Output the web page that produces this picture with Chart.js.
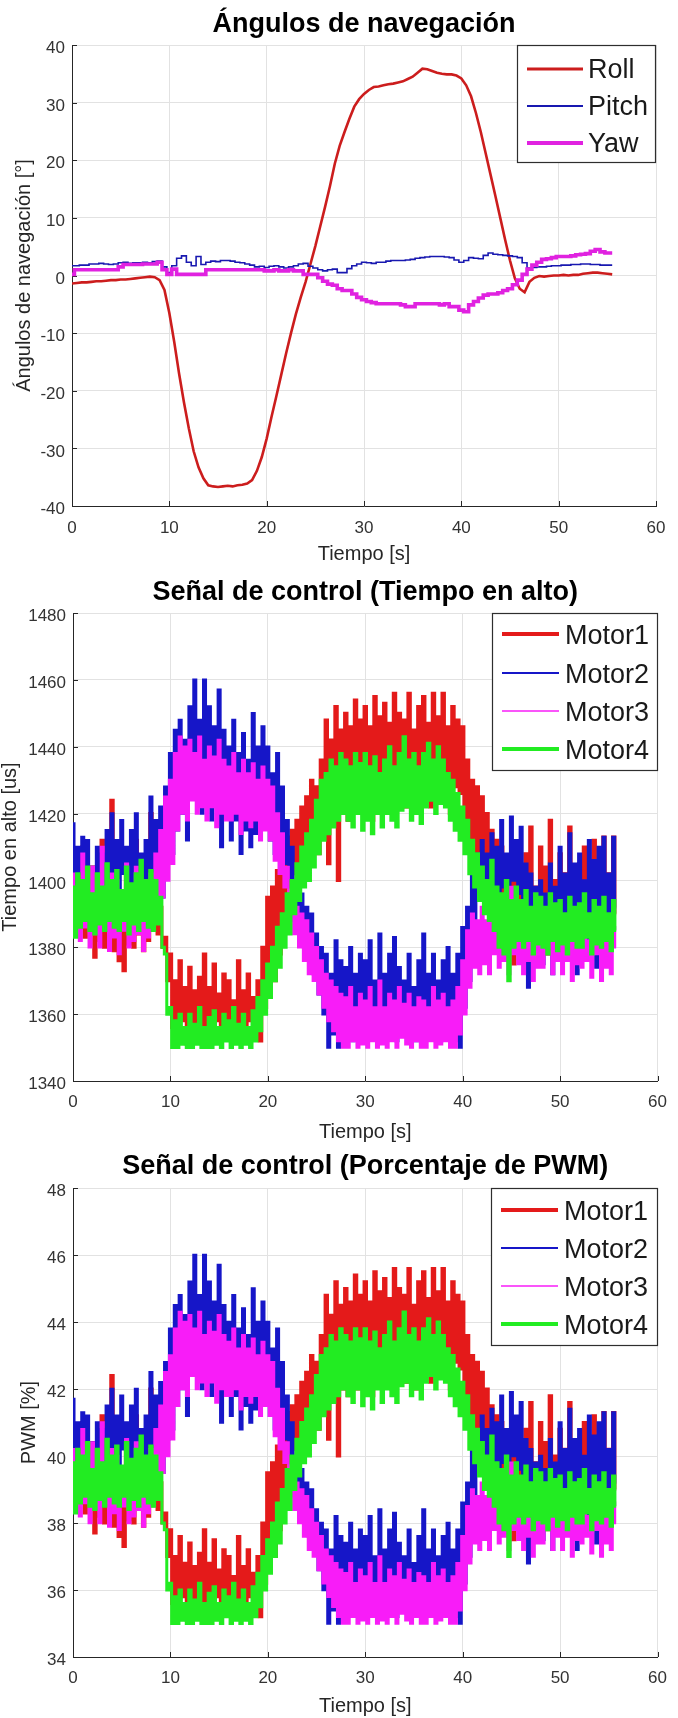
<!DOCTYPE html>
<html lang="es">
<head>
<meta charset="utf-8">
<title>Ángulos de navegación y señales de control</title>
<script src="https://cdn.jsdelivr.net/npm/chart.js@4.4.1/dist/chart.umd.min.js"></script>
<style>
    body { margin: 0; background: #ffffff; }
    .panel { position: absolute; left: 0; width: 678px; }
</style>
</head>
<body>
<div class="panel" style="top: 0px; height: 580px;"><canvas id="grafica-angulos"></canvas></div>
<div class="panel" style="top: 566px; height: 590px;"><canvas id="grafica-alto"></canvas></div>
<div class="panel" style="top: 1141px; height: 577px;"><canvas id="grafica-pwm"></canvas></div>
<script>
// ---- datos ----
const tiempoAngulos = [
    0, 0.5, 1, 1.5, 2, 2.5, 3, 3.5, 4, 4.5,
    5, 5.5, 6, 6.5, 7, 7.5, 8, 8.5, 9, 9.5,
    10, 10.5, 11, 11.5, 12, 12.5, 13, 13.5, 14, 14.5,
    15, 15.5, 16, 16.5, 17, 17.5, 18, 18.5, 19, 19.5,
    20, 20.5, 21, 21.5, 22, 22.5, 23, 23.5, 24, 24.5,
    25, 25.5, 26, 26.5, 27, 27.5, 28, 28.5, 29, 29.5,
    30, 30.5, 31, 31.5, 32, 32.5, 33, 33.5, 34, 34.5,
    35, 35.5, 36, 36.5, 37, 37.5, 38, 38.5, 39, 39.5,
    40, 40.5, 41, 41.5, 42, 42.5, 43, 43.5, 44, 44.5,
    45, 45.5, 46, 46.5, 47, 47.5, 48, 48.5, 49, 49.5,
    50, 50.5, 51, 51.5, 52, 52.5, 53, 53.5, 54, 54.5,
    55, 55.5
];
const roll = [
    -1.4, -1.3, -1.2, -1.2, -1.1, -1.0, -1.0, -0.9, -0.8, -0.8,
    -0.7, -0.7, -0.6, -0.5, -0.4, -0.3, -0.2, -0.3, -0.8, -2.5,
    -6.5, -11.5, -17, -22, -26.5, -30.5, -33.3, -35.2, -36.4, -36.6,
    -36.7, -36.6, -36.5, -36.6, -36.4, -36.3, -36.1, -35.5, -33.9, -31.5,
    -28.3, -24.5, -20.9, -17.2, -13.5, -10, -6.7, -3.8, -1.1, 2,
    5.1, 8.5, 11.9, 15.5, 19.4, 22.5, 24.9, 27.2, 29.3, 30.6,
    31.5, 32.2, 32.7, 32.8, 33, 33.2, 33.3, 33.5, 33.7, 34.1,
    34.5, 35.2, 35.9, 35.8, 35.5, 35.2, 35, 34.9, 34.9, 34.7,
    34.2, 33, 31.1, 28.2, 24.9, 21.2, 17.5, 13.8, 10, 6.2,
    2.6, -0.5, -2.3, -2.9, -1.1, -0.4, -0.1, -0.2, -0.1, 0,
    0, 0.1, 0, 0.1, 0.1, 0.3, 0.4, 0.5, 0.5, 0.4,
    0.3, 0.2
];
const pitch = [
    1.7, 1.7, 1.8, 1.8, 2.0, 2.0, 2.1, 2.0, 1.9, 2.0,
    2.2, 2.3, 2.1, 2.2, 2.2, 2.3, 2.2, 2.4, 2.5, 1.5,
    0.5, 1.7, 3.0, 3.4, 2.3, 1.7, 3.3, 1.9, 2.3, 2.5,
    2.4, 2.6, 2.6, 2.5, 2.3, 2.2, 2.0, 1.8, 1.5, 1.6,
    1.4, 1.6, 1.7, 1.5, 1.3, 1.5, 1.7, 2.0, 2.1, 1.6,
    1.3, 1.0, 0.8, 1.0, 1.1, 0.5, 0.5, 1.2, 1.7, 2.0,
    2.3, 2.2, 2.1, 2.3, 2.3, 2.5, 2.6, 2.6, 2.6, 2.7,
    2.8, 3.0, 3.1, 3.2, 3.3, 3.3, 3.3, 3.2, 3.1, 2.7,
    2.3, 2.6, 3.1, 3.0, 2.9, 3.5, 3.9, 3.7, 3.6, 3.5,
    3.4, 3.3, 3.1, 2.2, 1.3, 1.4, 1.5, 1.5, 1.6, 1.7,
    1.7, 1.8, 1.8, 1.9, 1.9, 2.0, 2.0, 1.9, 1.9, 1.8,
    1.8, 1.8
];
const yaw = [
    0.2, 1.0, 1.0, 1.0, 1.0, 1.0, 1.0, 1.0, 1.0, 1.0,
    1.5, 1.9, 1.9, 1.9, 1.9, 2.0, 2.0, 2.0, 2.3, 1.0,
    0.2, 1.1, 0.2, 0.2, 0.2, 0.2, 0.2, 0.2, 1.0, 1.0,
    1.0, 1.0, 1.0, 1.0, 1.0, 1.0, 1.0, 1.0, 1.0, 1.0,
    0.8, 0.8, 1.0, 0.8, 0.8, 1.0, 0.8, 0.8, 0.2, 0.2,
    0.2, -0.4, -1.0, -1.5, -1.7, -2.3, -2.6, -2.6, -3.2, -3.8,
    -4.2, -4.5, -4.7, -4.9, -4.9, -4.9, -4.9, -4.9, -5.1, -5.4,
    -5.4, -4.9, -4.9, -4.9, -4.9, -4.9, -5.1, -4.9, -5.4, -5.4,
    -6.0, -6.3, -5.1, -4.5, -3.9, -3.4, -3.2, -3.2, -3.0, -2.6,
    -2.3, -1.6, -0.8, 0.2, 1.1, 1.8, 2.3, 2.8, 2.9, 3.1,
    3.3, 3.3, 3.3, 3.4, 3.6, 3.7, 3.8, 4.2, 4.5, 4.1,
    3.9, 3.9
];

const tiempoMotores = [
    0, 0.25, 0.5, 0.75, 1, 1.25, 1.5, 1.75,
    2, 2.25, 2.5, 2.75, 3, 3.25, 3.5, 3.75,
    4, 4.25, 4.5, 4.75, 5, 5.25, 5.5, 5.75,
    6, 6.25, 6.5, 6.75, 7, 7.25, 7.5, 7.75,
    8, 8.25, 8.5, 8.75, 9, 9.25, 9.5, 9.75,
    10, 10.25, 10.5, 10.75, 11, 11.25, 11.5, 11.75,
    12, 12.25, 12.5, 12.75, 13, 13.25, 13.5, 13.75,
    14, 14.25, 14.5, 14.75, 15, 15.25, 15.5, 15.75,
    16, 16.25, 16.5, 16.75, 17, 17.25, 17.5, 17.75,
    18, 18.25, 18.5, 18.75, 19, 19.25, 19.5, 19.75,
    20, 20.25, 20.5, 20.75, 21, 21.25, 21.5, 21.75,
    22, 22.25, 22.5, 22.75, 23, 23.25, 23.5, 23.75,
    24, 24.25, 24.5, 24.75, 25, 25.25, 25.5, 25.75,
    26, 26.25, 26.5, 26.75, 27, 27.25, 27.5, 27.75,
    28, 28.25, 28.5, 28.75, 29, 29.25, 29.5, 29.75,
    30, 30.25, 30.5, 30.75, 31, 31.25, 31.5, 31.75,
    32, 32.25, 32.5, 32.75, 33, 33.25, 33.5, 33.75,
    34, 34.25, 34.5, 34.75, 35, 35.25, 35.5, 35.75,
    36, 36.25, 36.5, 36.75, 37, 37.25, 37.5, 37.75,
    38, 38.25, 38.5, 38.75, 39, 39.25, 39.5, 39.75,
    40, 40.25, 40.5, 40.75, 41, 41.25, 41.5, 41.75,
    42, 42.25, 42.5, 42.75, 43, 43.25, 43.5, 43.75,
    44, 44.25, 44.5, 44.75, 45, 45.25, 45.5, 45.75,
    46, 46.25, 46.5, 46.75, 47, 47.25, 47.5, 47.75,
    48, 48.25, 48.5, 48.75, 49, 49.25, 49.5, 49.75,
    50, 50.25, 50.5, 50.75, 51, 51.25, 51.5, 51.75,
    52, 52.25, 52.5, 52.75, 53, 53.25, 53.5, 53.75,
    54, 54.25, 54.5, 54.75, 55, 55.25, 55.5, 55.75
];

// tiempo en alto [us]
const motor1Alto = [
    1392, 1384, 1405, 1386, 1410, 1383, 1398, 1385,
    1404, 1377, 1396, 1382, 1412, 1380, 1390, 1384,
    1424, 1379, 1400, 1376, 1395, 1373, 1408, 1381,
    1398, 1380, 1412, 1384, 1393, 1379, 1402, 1382,
    1420, 1386, 1410, 1384, 1392, 1380, 1383, 1370,
    1378, 1356, 1370, 1353, 1376, 1358, 1368, 1351,
    1374, 1357, 1367, 1352, 1371, 1355, 1378, 1350,
    1368, 1356, 1375, 1358, 1366, 1354, 1372, 1357,
    1370, 1355, 1364, 1353, 1376, 1356, 1367, 1352,
    1372, 1358, 1365, 1354, 1370, 1352, 1380, 1362,
    1395, 1366, 1398, 1370, 1403, 1378, 1408, 1385,
    1413, 1398, 1415, 1402, 1418, 1405, 1422, 1408,
    1425, 1410, 1430, 1412, 1428, 1408, 1436, 1414,
    1448, 1405, 1442, 1418, 1452, 1400, 1445, 1420,
    1450, 1418, 1446, 1425, 1454, 1420, 1448, 1428,
    1452, 1424, 1446, 1418, 1455, 1428, 1449, 1422,
    1453, 1426, 1447, 1420, 1456, 1430, 1450, 1425,
    1448, 1422, 1456, 1428, 1445, 1420, 1452, 1426,
    1455, 1428, 1447, 1422, 1456, 1430, 1449, 1424,
    1456, 1425, 1446, 1420, 1452, 1428, 1448, 1426,
    1446, 1418, 1436, 1410, 1430, 1400, 1428, 1405,
    1425, 1400, 1420, 1395, 1415, 1385, 1412, 1380,
    1410, 1378, 1405, 1380, 1400, 1375, 1402, 1382,
    1396, 1378, 1408, 1380, 1416, 1384, 1398, 1376,
    1410, 1382, 1404, 1378, 1418, 1386, 1400, 1380,
    1408, 1384, 1402, 1380, 1416, 1385, 1399, 1378,
    1405, 1382, 1410, 1386, 1400, 1380, 1412, 1384,
    1406, 1385, 1413, 1382, 1402, 1380, 1413, 1390
];
const motor2Alto = [
    1417, 1398, 1410, 1402, 1413, 1396, 1412, 1400,
    1404, 1395, 1410, 1398, 1408, 1396, 1415, 1400,
    1420, 1398, 1412, 1396, 1418, 1402, 1410, 1397,
    1415, 1398, 1420, 1400, 1408, 1394, 1412, 1398,
    1425, 1400, 1418, 1396, 1422, 1395, 1428, 1405,
    1438, 1408, 1445, 1415, 1448, 1420, 1442, 1412,
    1452, 1425, 1460, 1428, 1448, 1420, 1460, 1430,
    1452, 1418, 1446, 1424, 1457, 1410, 1445, 1420,
    1440, 1412, 1448, 1418, 1438, 1408, 1444, 1415,
    1436, 1410, 1450, 1414, 1440, 1418, 1446, 1416,
    1440, 1412, 1432, 1408, 1438, 1410, 1428, 1405,
    1418, 1400, 1410, 1392, 1398, 1384, 1396, 1380,
    1392, 1376, 1390, 1372, 1384, 1366, 1380, 1360,
    1378, 1350, 1372, 1354, 1382, 1350, 1376, 1356,
    1374, 1355, 1380, 1352, 1372, 1358, 1378, 1354,
    1376, 1356, 1382, 1360, 1370, 1354, 1384, 1358,
    1372, 1355, 1378, 1360, 1383, 1352, 1374, 1356,
    1370, 1358, 1378, 1355, 1368, 1352, 1376, 1360,
    1384, 1358, 1372, 1354, 1378, 1360, 1370, 1352,
    1376, 1356, 1380, 1358, 1372, 1352, 1378, 1350,
    1386, 1362, 1392, 1370, 1402, 1380, 1408, 1395,
    1412, 1400, 1408, 1390, 1414, 1396, 1410, 1385,
    1418, 1398, 1408, 1395, 1419, 1400, 1412, 1396,
    1416, 1390, 1405, 1368, 1402, 1385, 1398, 1380,
    1400, 1375, 1396, 1382, 1405, 1372, 1398, 1378,
    1410, 1384, 1402, 1380, 1414, 1386, 1405, 1372,
    1408, 1385, 1400, 1378, 1412, 1382, 1406, 1374,
    1410, 1385, 1413, 1388, 1402, 1380, 1413, 1392
];
const motor3Alto = [
    1402, 1385, 1398, 1382, 1408, 1386, 1400, 1380,
    1404, 1384, 1396, 1380, 1410, 1386, 1398, 1379,
    1402, 1383, 1400, 1378, 1396, 1385, 1405, 1380,
    1398, 1382, 1404, 1384, 1400, 1379, 1395, 1383,
    1402, 1385, 1408, 1392, 1415, 1395, 1425, 1400,
    1430, 1405, 1438, 1415, 1443, 1420, 1440, 1418,
    1442, 1424, 1438, 1420, 1443, 1422, 1436, 1418,
    1440, 1422, 1437, 1416, 1442, 1420, 1436, 1418,
    1434, 1418, 1438, 1420, 1432, 1414, 1436, 1418,
    1432, 1416, 1435, 1418, 1430, 1412, 1434, 1415,
    1430, 1412, 1428, 1406, 1420, 1402, 1414, 1398,
    1404, 1388, 1396, 1384, 1392, 1380, 1390, 1376,
    1388, 1372, 1384, 1370, 1380, 1366, 1376, 1362,
    1372, 1358, 1370, 1355, 1368, 1352, 1366, 1350,
    1365, 1350, 1368, 1352, 1362, 1350, 1366, 1351,
    1364, 1350, 1368, 1352, 1362, 1350, 1370, 1351,
    1362, 1350, 1366, 1352, 1364, 1350, 1368, 1353,
    1363, 1351, 1366, 1350, 1362, 1352, 1365, 1350,
    1364, 1350, 1362, 1352, 1368, 1350, 1364, 1351,
    1366, 1352, 1362, 1350, 1364, 1350, 1368, 1354,
    1376, 1360, 1385, 1368, 1390, 1374, 1388, 1372,
    1392, 1375, 1388, 1372, 1394, 1378, 1390, 1374,
    1395, 1376, 1390, 1372, 1398, 1378, 1392, 1375,
    1386, 1372, 1390, 1376, 1384, 1370, 1388, 1374,
    1386, 1374, 1390, 1378, 1384, 1372, 1388, 1376,
    1385, 1372, 1389, 1376, 1383, 1370, 1387, 1375,
    1384, 1374, 1388, 1376, 1382, 1371, 1386, 1378,
    1385, 1370, 1388, 1374, 1383, 1372, 1386, 1380
];
const motor4Alto = [
    1398, 1383, 1402, 1386, 1400, 1388, 1404, 1385,
    1396, 1384, 1402, 1387, 1398, 1385, 1405, 1388,
    1400, 1386, 1403, 1385, 1397, 1388, 1404, 1384,
    1399, 1387, 1402, 1385, 1406, 1388, 1400, 1386,
    1403, 1385, 1400, 1387, 1395, 1380, 1378, 1360,
    1362, 1350, 1358, 1350, 1360, 1351, 1356, 1350,
    1360, 1350, 1357, 1351, 1362, 1350, 1356, 1350,
    1359, 1350, 1361, 1351, 1356, 1350, 1360, 1352,
    1358, 1350, 1362, 1351, 1357, 1350, 1360, 1351,
    1356, 1350, 1361, 1352, 1365, 1355, 1370, 1360,
    1375, 1365, 1380, 1370, 1386, 1374, 1390, 1380,
    1396, 1384, 1400, 1390, 1405, 1394, 1410, 1398,
    1414, 1400, 1418, 1404, 1424, 1408, 1430, 1412,
    1432, 1414, 1436, 1416, 1434, 1418, 1438, 1420,
    1436, 1418, 1434, 1416, 1438, 1420, 1435, 1415,
    1438, 1418, 1434, 1414, 1437, 1420, 1432, 1416,
    1436, 1420, 1440, 1418, 1434, 1416, 1438, 1421,
    1443, 1422, 1436, 1418, 1438, 1420, 1434, 1417,
    1438, 1422, 1441, 1424, 1436, 1420, 1440, 1423,
    1436, 1422, 1432, 1418, 1430, 1415, 1426, 1412,
    1422, 1408, 1418, 1402, 1412, 1398, 1408, 1394,
    1404, 1390, 1400, 1388, 1406, 1385, 1398, 1380,
    1396, 1378, 1400, 1370, 1394, 1380, 1398, 1382,
    1394, 1380, 1397, 1382, 1392, 1378, 1396, 1381,
    1395, 1380, 1392, 1378, 1396, 1382, 1393, 1379,
    1394, 1381, 1390, 1378, 1395, 1382, 1392, 1380,
    1393, 1380, 1396, 1383, 1390, 1378, 1394, 1381,
    1392, 1380, 1395, 1382, 1390, 1379, 1394, 1385
];

// porcentaje de PWM [%]
const motor1Pwm = [
    39.2, 38.4, 40.5, 38.6, 41, 38.3, 39.8, 38.5,
    40.4, 37.7, 39.6, 38.2, 41.2, 38, 39, 38.4,
    42.4, 37.9, 40, 37.6, 39.5, 37.3, 40.8, 38.1,
    39.8, 38, 41.2, 38.4, 39.3, 37.9, 40.2, 38.2,
    42, 38.6, 41, 38.4, 39.2, 38, 38.3, 37,
    37.8, 35.6, 37, 35.3, 37.6, 35.8, 36.8, 35.1,
    37.4, 35.7, 36.7, 35.2, 37.1, 35.5, 37.8, 35,
    36.8, 35.6, 37.5, 35.8, 36.6, 35.4, 37.2, 35.7,
    37, 35.5, 36.4, 35.3, 37.6, 35.6, 36.7, 35.2,
    37.2, 35.8, 36.5, 35.4, 37, 35.2, 38, 36.2,
    39.5, 36.6, 39.8, 37, 40.3, 37.8, 40.8, 38.5,
    41.3, 39.8, 41.5, 40.2, 41.8, 40.5, 42.2, 40.8,
    42.5, 41, 43, 41.2, 42.8, 40.8, 43.6, 41.4,
    44.8, 40.5, 44.2, 41.8, 45.2, 40, 44.5, 42,
    45, 41.8, 44.6, 42.5, 45.4, 42, 44.8, 42.8,
    45.2, 42.4, 44.6, 41.8, 45.5, 42.8, 44.9, 42.2,
    45.3, 42.6, 44.7, 42, 45.6, 43, 45, 42.5,
    44.8, 42.2, 45.6, 42.8, 44.5, 42, 45.2, 42.6,
    45.5, 42.8, 44.7, 42.2, 45.6, 43, 44.9, 42.4,
    45.6, 42.5, 44.6, 42, 45.2, 42.8, 44.8, 42.6,
    44.6, 41.8, 43.6, 41, 43, 40, 42.8, 40.5,
    42.5, 40, 42, 39.5, 41.5, 38.5, 41.2, 38,
    41, 37.8, 40.5, 38, 40, 37.5, 40.2, 38.2,
    39.6, 37.8, 40.8, 38, 41.6, 38.4, 39.8, 37.6,
    41, 38.2, 40.4, 37.8, 41.8, 38.6, 40, 38,
    40.8, 38.4, 40.2, 38, 41.6, 38.5, 39.9, 37.8,
    40.5, 38.2, 41, 38.6, 40, 38, 41.2, 38.4,
    40.6, 38.5, 41.3, 38.2, 40.2, 38, 41.3, 39
];
const motor2Pwm = [
    41.7, 39.8, 41, 40.2, 41.3, 39.6, 41.2, 40,
    40.4, 39.5, 41, 39.8, 40.8, 39.6, 41.5, 40,
    42, 39.8, 41.2, 39.6, 41.8, 40.2, 41, 39.7,
    41.5, 39.8, 42, 40, 40.8, 39.4, 41.2, 39.8,
    42.5, 40, 41.8, 39.6, 42.2, 39.5, 42.8, 40.5,
    43.8, 40.8, 44.5, 41.5, 44.8, 42, 44.2, 41.2,
    45.2, 42.5, 46, 42.8, 44.8, 42, 46, 43,
    45.2, 41.8, 44.6, 42.4, 45.7, 41, 44.5, 42,
    44, 41.2, 44.8, 41.8, 43.8, 40.8, 44.4, 41.5,
    43.6, 41, 45, 41.4, 44, 41.8, 44.6, 41.6,
    44, 41.2, 43.2, 40.8, 43.8, 41, 42.8, 40.5,
    41.8, 40, 41, 39.2, 39.8, 38.4, 39.6, 38,
    39.2, 37.6, 39, 37.2, 38.4, 36.6, 38, 36,
    37.8, 35, 37.2, 35.4, 38.2, 35, 37.6, 35.6,
    37.4, 35.5, 38, 35.2, 37.2, 35.8, 37.8, 35.4,
    37.6, 35.6, 38.2, 36, 37, 35.4, 38.4, 35.8,
    37.2, 35.5, 37.8, 36, 38.3, 35.2, 37.4, 35.6,
    37, 35.8, 37.8, 35.5, 36.8, 35.2, 37.6, 36,
    38.4, 35.8, 37.2, 35.4, 37.8, 36, 37, 35.2,
    37.6, 35.6, 38, 35.8, 37.2, 35.2, 37.8, 35,
    38.6, 36.2, 39.2, 37, 40.2, 38, 40.8, 39.5,
    41.2, 40, 40.8, 39, 41.4, 39.6, 41, 38.5,
    41.8, 39.8, 40.8, 39.5, 41.9, 40, 41.2, 39.6,
    41.6, 39, 40.5, 36.8, 40.2, 38.5, 39.8, 38,
    40, 37.5, 39.6, 38.2, 40.5, 37.2, 39.8, 37.8,
    41, 38.4, 40.2, 38, 41.4, 38.6, 40.5, 37.2,
    40.8, 38.5, 40, 37.8, 41.2, 38.2, 40.6, 37.4,
    41, 38.5, 41.3, 38.8, 40.2, 38, 41.3, 39.2
];
const motor3Pwm = [
    40.2, 38.5, 39.8, 38.2, 40.8, 38.6, 40, 38,
    40.4, 38.4, 39.6, 38, 41, 38.6, 39.8, 37.9,
    40.2, 38.3, 40, 37.8, 39.6, 38.5, 40.5, 38,
    39.8, 38.2, 40.4, 38.4, 40, 37.9, 39.5, 38.3,
    40.2, 38.5, 40.8, 39.2, 41.5, 39.5, 42.5, 40,
    43, 40.5, 43.8, 41.5, 44.3, 42, 44, 41.8,
    44.2, 42.4, 43.8, 42, 44.3, 42.2, 43.6, 41.8,
    44, 42.2, 43.7, 41.6, 44.2, 42, 43.6, 41.8,
    43.4, 41.8, 43.8, 42, 43.2, 41.4, 43.6, 41.8,
    43.2, 41.6, 43.5, 41.8, 43, 41.2, 43.4, 41.5,
    43, 41.2, 42.8, 40.6, 42, 40.2, 41.4, 39.8,
    40.4, 38.8, 39.6, 38.4, 39.2, 38, 39, 37.6,
    38.8, 37.2, 38.4, 37, 38, 36.6, 37.6, 36.2,
    37.2, 35.8, 37, 35.5, 36.8, 35.2, 36.6, 35,
    36.5, 35, 36.8, 35.2, 36.2, 35, 36.6, 35.1,
    36.4, 35, 36.8, 35.2, 36.2, 35, 37, 35.1,
    36.2, 35, 36.6, 35.2, 36.4, 35, 36.8, 35.3,
    36.3, 35.1, 36.6, 35, 36.2, 35.2, 36.5, 35,
    36.4, 35, 36.2, 35.2, 36.8, 35, 36.4, 35.1,
    36.6, 35.2, 36.2, 35, 36.4, 35, 36.8, 35.4,
    37.6, 36, 38.5, 36.8, 39, 37.4, 38.8, 37.2,
    39.2, 37.5, 38.8, 37.2, 39.4, 37.8, 39, 37.4,
    39.5, 37.6, 39, 37.2, 39.8, 37.8, 39.2, 37.5,
    38.6, 37.2, 39, 37.6, 38.4, 37, 38.8, 37.4,
    38.6, 37.4, 39, 37.8, 38.4, 37.2, 38.8, 37.6,
    38.5, 37.2, 38.9, 37.6, 38.3, 37, 38.7, 37.5,
    38.4, 37.4, 38.8, 37.6, 38.2, 37.1, 38.6, 37.8,
    38.5, 37, 38.8, 37.4, 38.3, 37.2, 38.6, 38
];
const motor4Pwm = [
    39.8, 38.3, 40.2, 38.6, 40, 38.8, 40.4, 38.5,
    39.6, 38.4, 40.2, 38.7, 39.8, 38.5, 40.5, 38.8,
    40, 38.6, 40.3, 38.5, 39.7, 38.8, 40.4, 38.4,
    39.9, 38.7, 40.2, 38.5, 40.6, 38.8, 40, 38.6,
    40.3, 38.5, 40, 38.7, 39.5, 38, 37.8, 36,
    36.2, 35, 35.8, 35, 36, 35.1, 35.6, 35,
    36, 35, 35.7, 35.1, 36.2, 35, 35.6, 35,
    35.9, 35, 36.1, 35.1, 35.6, 35, 36, 35.2,
    35.8, 35, 36.2, 35.1, 35.7, 35, 36, 35.1,
    35.6, 35, 36.1, 35.2, 36.5, 35.5, 37, 36,
    37.5, 36.5, 38, 37, 38.6, 37.4, 39, 38,
    39.6, 38.4, 40, 39, 40.5, 39.4, 41, 39.8,
    41.4, 40, 41.8, 40.4, 42.4, 40.8, 43, 41.2,
    43.2, 41.4, 43.6, 41.6, 43.4, 41.8, 43.8, 42,
    43.6, 41.8, 43.4, 41.6, 43.8, 42, 43.5, 41.5,
    43.8, 41.8, 43.4, 41.4, 43.7, 42, 43.2, 41.6,
    43.6, 42, 44, 41.8, 43.4, 41.6, 43.8, 42.1,
    44.3, 42.2, 43.6, 41.8, 43.8, 42, 43.4, 41.7,
    43.8, 42.2, 44.1, 42.4, 43.6, 42, 44, 42.3,
    43.6, 42.2, 43.2, 41.8, 43, 41.5, 42.6, 41.2,
    42.2, 40.8, 41.8, 40.2, 41.2, 39.8, 40.8, 39.4,
    40.4, 39, 40, 38.8, 40.6, 38.5, 39.8, 38,
    39.6, 37.8, 40, 37, 39.4, 38, 39.8, 38.2,
    39.4, 38, 39.7, 38.2, 39.2, 37.8, 39.6, 38.1,
    39.5, 38, 39.2, 37.8, 39.6, 38.2, 39.3, 37.9,
    39.4, 38.1, 39, 37.8, 39.5, 38.2, 39.2, 38,
    39.3, 38, 39.6, 38.3, 39, 37.8, 39.4, 38.1,
    39.2, 38, 39.5, 38.2, 39, 37.9, 39.4, 38.5
];

const ticksTiempo = [0, 10, 20, 30, 40, 50, 60];
const ticksAngulos = [-40, -30, -20, -10, 0, 10, 20, 30, 40];
const ticksAlto = [1340, 1360, 1380, 1400, 1420, 1440, 1460, 1480];
const ticksPwm = [34, 36, 38, 40, 42, 44, 46, 48];
const nombresAngulos = ['Roll', 'Pitch', 'Yaw'];
const nombresMotores = ['Motor1', 'Motor2', 'Motor3', 'Motor4'];

// ---- estilo ----
const familia = "'Liberation Sans', Arial, sans-serif";
const coloresAngulos = ['#cc1d1d', '#1818b0', '#e022e0'];
const coloresMotores = ['#e41a1a', '#1616c8', '#f81cf8', '#22ec22'];

const puntos = (tiempos, valores) => tiempos.map((t, i) => ({ x: t, y: valores[i] }));

// marcas de los ejes hacia dentro, como en MATLAB
const marcasInternas = {
    id: 'marcasInternas',
    beforeDatasetsDraw(chart) {
        const { ctx, chartArea, scales } = chart;
        ctx.save();
        ctx.strokeStyle = '#262626';
        ctx.lineWidth = 1;
        ctx.beginPath();
        scales.x.ticks.forEach((tick) => {
            const px = Math.round(scales.x.getPixelForValue(tick.value)) + 0.5;
            ctx.moveTo(px, chartArea.bottom);
            ctx.lineTo(px, chartArea.bottom - 5);
        });
        scales.y.ticks.forEach((tick) => {
            const py = Math.round(scales.y.getPixelForValue(tick.value)) + 0.5;
            ctx.moveTo(chartArea.left, py);
            ctx.lineTo(chartArea.left + 5, py);
        });
        ctx.stroke();
        ctx.restore();
    }
};

function crearLeyenda(cfg) {
    return {
        id: 'leyendaCaja',
        afterDraw(chart) {
            const { ctx, chartArea } = chart;
            const izq = Math.round(chartArea.right - cfg.ancho);
            const arriba = Math.round(chartArea.top);
            ctx.save();
            ctx.fillStyle = '#ffffff';
            ctx.fillRect(izq, arriba, cfg.ancho, cfg.alto);
            ctx.strokeStyle = '#2e2e2e';
            ctx.lineWidth = 1.2;
            ctx.strokeRect(izq + 0.5, arriba + 0.5, cfg.ancho - 1, cfg.alto - 1);
            ctx.font = '27px ' + familia;
            ctx.textAlign = 'left';
            ctx.textBaseline = 'middle';
            chart.data.datasets.forEach((ds, i) => {
                const y = arriba + cfg.filas[i];
                ctx.strokeStyle = ds.borderColor;
                ctx.lineWidth = cfg.grosores[i];
                ctx.beginPath();
                ctx.moveTo(izq + 10, y);
                ctx.lineTo(izq + 10 + cfg.largo, y);
                ctx.stroke();
                ctx.fillStyle = '#1a1a1a';
                ctx.fillText(ds.label, izq + cfg.textoX, y + cfg.textoDy);
            });
            ctx.restore();
        }
    };
}

function crearGrafica(id, cfg) {
    return new Chart(document.getElementById(id), {
        type: 'line',
        data: { datasets: cfg.series },
        options: {
            responsive: true,
            maintainAspectRatio: false,
            animation: false,
            layout: { padding: { left: 0, right: cfg.margenDerecho, top: 0, bottom: 0 } },
            elements: { point: { radius: 0 } },
            plugins: {
                legend: { display: false },
                tooltip: { enabled: false },
                title: {
                    display: true,
                    text: cfg.titulo,
                    fullSize: false,
                    color: '#000000',
                    font: { family: familia, size: 27, weight: 'bold', lineHeight: 1.2 },
                    padding: cfg.tituloPadding
                }
            },
            scales: {
                x: {
                    type: 'linear',
                    min: 0,
                    max: 60,
                    afterBuildTicks: (s) => { s.ticks = ticksTiempo.map((v) => ({ value: v })); },
                    afterFit: (s) => { s.height = cfg.altoEjeX; },
                    ticks: {
                        color: '#333333',
                        font: { family: familia, size: 17 },
                        padding: cfg.padTicksX,
                        maxRotation: 0,
                        callback: (v) => String(v)
                    },
                    grid: { color: '#e2e2e2', drawTicks: false },
                    border: { display: true, color: '#262626', width: 1 },
                    title: {
                        display: true,
                        text: 'Tiempo [s]',
                        color: '#262626',
                        font: { family: familia, size: 20, lineHeight: 1.2 },
                        padding: { top: 0, bottom: cfg.padTituloX }
                    }
                },
                y: {
                    type: 'linear',
                    min: cfg.ticksY[0],
                    max: cfg.ticksY[cfg.ticksY.length - 1],
                    afterBuildTicks: (s) => { s.ticks = cfg.ticksY.map((v) => ({ value: v })); },
                    afterFit: (s) => { s.width = cfg.anchoEjeY; },
                    ticks: {
                        color: '#333333',
                        font: { family: familia, size: 17 },
                        padding: 7,
                        labelOffset: 3.5,
                        callback: (v) => String(v)
                    },
                    grid: { color: '#e2e2e2', drawTicks: false },
                    border: { display: true, color: '#262626', width: 1 },
                    title: {
                        display: true,
                        text: cfg.tituloY,
                        color: '#262626',
                        font: { family: familia, size: 20, lineHeight: 1.2 },
                        padding: { top: cfg.padTituloY, bottom: 0 }
                    }
                }
            }
        },
        plugins: [marcasInternas, crearLeyenda(cfg.leyenda)]
    });
}

function seriesMotores(valores) {
    const grosores = [3, 2.6, 2.6, 3];
    return valores.map((v, i) => ({
        label: nombresMotores[i],
        data: puntos(tiempoMotores, v),
        borderColor: coloresMotores[i],
        borderWidth: grosores[i],
        stepped: 'middle',
        order: 4 - i
    }));
}

crearGrafica('grafica-angulos', {
    titulo: 'Ángulos de navegación',
    tituloY: 'Ángulos de navegación [°]',
    tituloPadding: { top: 8.8, bottom: 3.8 },
    margenDerecho: 22,
    anchoEjeY: 72,
    altoEjeX: 74,
    padTicksX: 12,
    padTituloX: 13.5,
    padTituloY: 12.6,
    ticksY: ticksAngulos,
    series: [
        { label: nombresAngulos[0], data: puntos(tiempoAngulos, roll), borderColor: coloresAngulos[0], borderWidth: 2.6, order: 3 },
        { label: nombresAngulos[1], data: puntos(tiempoAngulos, pitch), borderColor: coloresAngulos[1], borderWidth: 1.6, stepped: 'middle', order: 2 },
        { label: nombresAngulos[2], data: puntos(tiempoAngulos, yaw), borderColor: coloresAngulos[2], borderWidth: 3.6, stepped: 'middle', order: 1 }
    ],
    leyenda: { ancho: 139, alto: 118, largo: 56, textoX: 71, textoDy: 2, filas: [24, 61, 98], grosores: [3.2, 2, 4.2] }
});

crearGrafica('grafica-alto', {
    titulo: 'Señal de control (Tiempo en alto)',
    tituloY: 'Tiempo en alto [us]',
    tituloPadding: { top: 10.3, bottom: 4.3 },
    margenDerecho: 13,
    anchoEjeY: 73,
    altoEjeX: 75,
    padTicksX: 11,
    padTituloX: 11.5,
    padTituloY: -1.2,
    ticksY: ticksAlto,
    series: seriesMotores([motor1Alto, motor2Alto, motor3Alto, motor4Alto]),
    leyenda: { ancho: 166, alto: 158, largo: 57, textoX: 73, textoDy: 3, filas: [21, 60, 98, 136], grosores: [4.2, 2, 1.6, 4.2] }
});

crearGrafica('grafica-pwm', {
    titulo: 'Señal de control (Porcentaje de PWM)',
    tituloY: 'PWM [%]',
    tituloPadding: { top: 9.8, bottom: 4.8 },
    margenDerecho: 12,
    anchoEjeY: 73,
    altoEjeX: 61,
    padTicksX: 11,
    padTituloX: 0,
    padTituloY: 17.8,
    ticksY: ticksPwm,
    series: seriesMotores([motor1Pwm, motor2Pwm, motor3Pwm, motor4Pwm]),
    leyenda: { ancho: 167, alto: 158, largo: 57, textoX: 73, textoDy: 3, filas: [22, 60, 98, 136], grosores: [4.2, 2, 1.6, 4.2] }
});
</script>
</body>
</html>
